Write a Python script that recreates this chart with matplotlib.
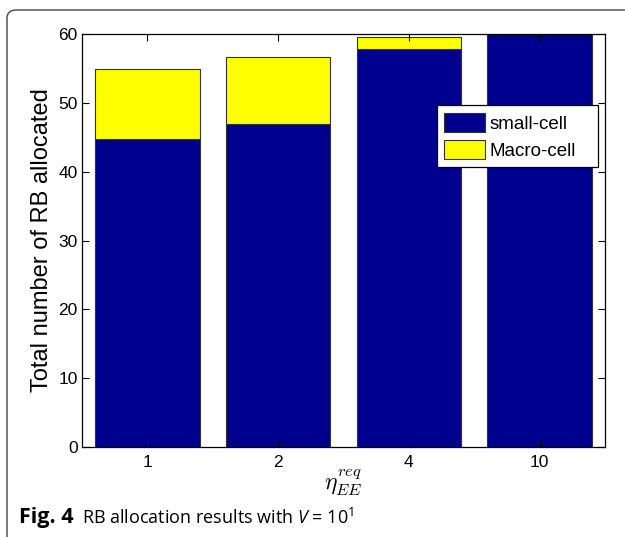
import numpy as np
import matplotlib
matplotlib.use('Agg')
import matplotlib.pyplot as plt
from matplotlib.patches import FancyBboxPatch

# RB allocation per energy-efficiency requirement
eta_labels = ['1', '2', '4', '10']
small_cell = [44.7, 46.9, 57.85, 60.0]
macro_cell = [10.2, 9.7, 1.75, 0.0]

plt.rcParams['font.family'] = ['Liberation Sans', 'DejaVu Sans']
plt.rcParams['mathtext.fontset'] = 'cm'
plt.rcParams['mathtext.rm'] = 'Open Sans'
plt.rcParams['mathtext.it'] = 'Open Sans:italic'

fig = plt.figure(figsize=(6.25, 5.37), dpi=100)
ax = fig.add_axes([0.1312, 0.1676, 0.8368, 0.769])

x = np.arange(1, len(eta_labels) + 1)
ax.bar(x, small_cell, width=0.8, color='#00008F', edgecolor='#333333',
       linewidth=0.8, label='small-cell')
ax.bar(x, macro_cell, width=0.8, bottom=small_cell, color='#FFFF00',
       edgecolor='#333333', linewidth=0.8, label='Macro-cell')

ax.set_xlim(0.5, 4.5)
ax.set_ylim(0, 60)
ax.set_xticks(x)
ax.set_xticklabels(eta_labels)
ax.set_yticks(range(0, 61, 10))
ax.tick_params(direction='in', length=5, width=0.8, labelsize=12.5,
               top=True, right=True)
ax.tick_params(axis='x', pad=6)
ax.tick_params(axis='y', pad=3)
for s in ax.spines.values():
    s.set_linewidth(0.9)

ax.set_ylabel('Total number of RB allocated', fontsize=17)
ax.yaxis.set_label_coords(-0.056, 0.5)
ax.set_xlabel(r'$\eta_{EE}^{req}$', fontsize=17, labelpad=-2)

leg = ax.legend(loc='upper left', bbox_to_anchor=(0.678, 0.828, 0.308, 0.0),
                mode='expand', fontsize=13.5, fancybox=False, framealpha=1,
                edgecolor='black', handlelength=2.2, handleheight=1.2,
                borderpad=0.4, labelspacing=0.4, handletextpad=0.2,
                borderaxespad=0)
leg.get_frame().set_linewidth(0.9)

# outer rounded frame of the figure panel
frame = FancyBboxPatch((7 / 625, -0.2), 1.2, (537 - 10) / 537 + 0.2,
                       boxstyle='round,pad=0,rounding_size=0.015',
                       transform=fig.transFigure, fill=False,
                       edgecolor='#444444', linewidth=1.0, clip_on=False)
fig.patches.append(frame)

cap_y = 1 - 518 / 537
fig.text(19 / 625, cap_y, 'Fig. 4', fontsize=15.5, fontweight='bold',
         family=['Open Sans', 'DejaVu Sans'], va='center', ha='left')
fig.text(82 / 625, cap_y, r'RB allocation results with $V$ = 10$^1$',
         fontsize=13, family=['Open Sans', 'DejaVu Sans'], va='center',
         ha='left', math_fontfamily='custom')

fig.savefig('out.png', dpi=100)
